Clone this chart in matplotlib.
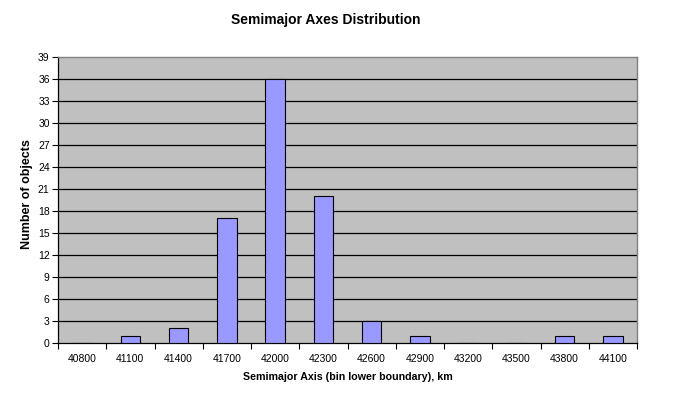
import matplotlib
matplotlib.use("Agg")
import matplotlib.pyplot as plt
import numpy as np

categories = ["40800", "41100", "41400", "41700", "42000", "42300",
              "42600", "42900", "43200", "43500", "43800", "44100"]
counts = [0, 1, 2, 17, 36, 20, 3, 1, 0, 0, 1, 1]
yticks = list(range(0, 40, 3))

plt.rcParams['font.family'] = ['Liberation Sans', 'DejaVu Sans']

fig = plt.figure(figsize=(6.92, 3.97), dpi=100)
ax = fig.add_axes([58/692, 1-343/397, (637-58)/692, (343-57)/397])
ax.set_facecolor('#C0C0C0')

x = np.arange(len(categories))
ax.bar(x, counts, width=0.4, color='#9999FF', edgecolor='#000000', linewidth=0.8, zorder=3)

ax.set_xlim(-0.5, len(categories) - 0.5)
ax.set_ylim(0, 39)
ax.set_yticks(yticks)
ax.set_yticklabels([str(v) for v in yticks], fontsize=7.5)
for v in yticks[1:-1]:
    ax.axhline(v, color='black', linewidth=0.9, zorder=1)

ax.set_xticks(x)
ax.set_xticklabels(categories, fontsize=7.5)
ax.set_xticks(np.arange(-0.5, len(categories)), minor=True)
ax.tick_params(axis='x', which='major', length=0, pad=8)
ax.tick_params(axis='x', which='minor', length=4, width=0.8, direction='out')
ax.tick_params(axis='y', length=4, width=0.8, direction='out', pad=2)

for s in ['top', 'right']:
    ax.spines[s].set_color('#808080')
    ax.spines[s].set_linewidth(1.0)
for s in ['left', 'bottom']:
    ax.spines[s].set_color('black')
    ax.spines[s].set_linewidth(0.9)

ax.set_xlabel("Semimajor Axis (bin lower boundary), km", fontsize=7.7, fontweight='bold', labelpad=6)
fig.text(27/692, 1-194/397, "Number of objects", fontsize=9, fontweight='bold',
         rotation=90, ha='center', va='center')
fig.text(326/692, 1-20/397, "Semimajor Axes Distribution", fontsize=10, fontweight='bold',
         ha='center', va='center')

fig.savefig("out.png", dpi=100)
